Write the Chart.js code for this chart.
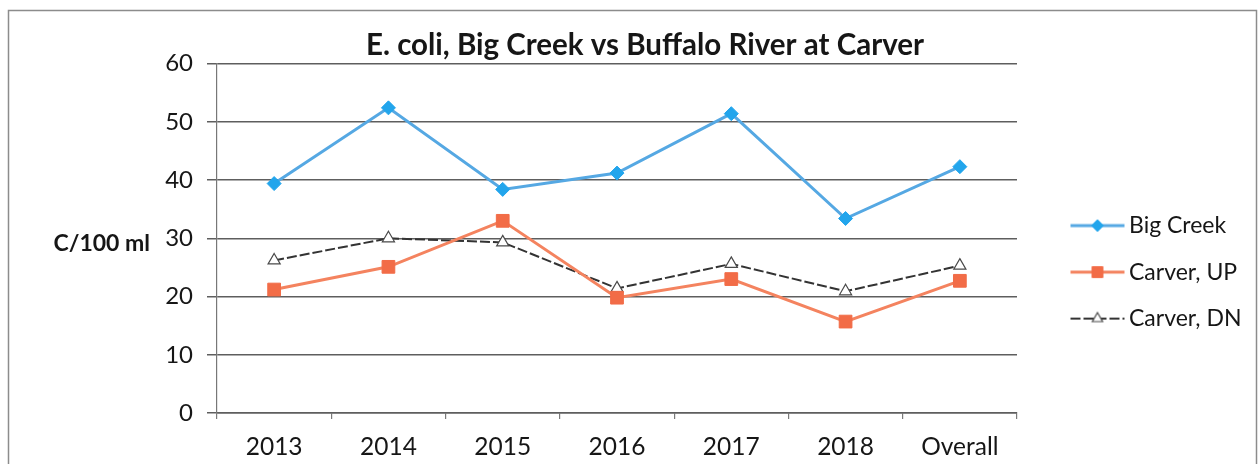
<!DOCTYPE html>
<html>
<head>
<meta charset="utf-8">
<title>E. coli, Big Creek vs Buffalo River at Carver</title>
<script src="https://cdn.jsdelivr.net/npm/chart.js@4/dist/chart.umd.min.js"></script>
<style>
  html, body { margin: 0; padding: 0; background: #ffffff; }
  #wrap { position: relative; width: 1259px; height: 464px; }
</style>
</head>
<body>
<div id="wrap"><canvas id="chart" width="1259" height="464"></canvas></div>
<script>
// ---- data ----
const categories = ['2013', '2014', '2015', '2016', '2017', '2018', 'Overall'];
const bigCreek  = [39.4, 52.4, 38.4, 41.2, 51.4, 33.4, 42.3];
const carverUp  = [21.2, 25.1, 33.0, 19.8, 23.0, 15.7, 22.7];
const carverDn  = [26.2, 30.0, 29.3, 21.4, 25.6, 20.9, 25.3];
const yTicks    = [0, 10, 20, 30, 40, 50, 60];
const seriesNames = ['Big Creek', 'Carver, UP', 'Carver, DN'];
const chartTitle = 'E. coli, Big Creek vs Buffalo River at Carver';
const yAxisLabel = 'C/100 ml';

const FONT = 'Lato, "Open Sans", "DejaVu Sans", sans-serif';
const TEXT = '#161616';

// small canvas with a line + marker, used as the legend symbol
function legendSymbol(ds) {
  const c = document.createElement('canvas');
  c.width = 56; c.height = 20;
  const ctx = c.getContext('2d');
  ctx.strokeStyle = ds.borderColor;
  ctx.lineWidth = ds.borderWidth;
  ctx.setLineDash(ds.borderDash || []);
  ctx.beginPath(); ctx.moveTo(1, 10); ctx.lineTo(55, 10); ctx.stroke();
  ctx.setLineDash([]);
  ctx.fillStyle = ds.pointBackgroundColor;
  ctx.strokeStyle = ds.pointBorderColor;
  ctx.lineWidth = ds.pointBorderWidth;
  Chart.helpers.drawPoint(ctx, {
    pointStyle: ds.pointStyle, radius: ds.pointRadius * 0.85,
    borderWidth: ds.pointBorderWidth, rotation: 0
  }, 28, 10);
  return c;
}

// frame around the figure, the horizontal y-axis caption and box placement
const figureDecor = {
  id: 'figureDecor',
  afterLayout(chart) {
    const area = chart.chartArea;
    const t = chart.titleBlock;
    t.left = 31; t.right = chart.width; t.width = t.right - t.left;
    const lg = chart.legend;
    lg.left = area.right + 37;
    lg.right = chart.width;
    lg.width = lg.right - lg.left;
    lg.top = area.top + 127;
    lg.bottom = chart.height;
    lg.height = lg.bottom - lg.top;
  },
  beforeDraw(chart) {
    const ctx = chart.ctx;
    ctx.save();
    ctx.strokeStyle = '#8c8c8c';
    ctx.lineWidth = 1.5;
    ctx.strokeRect(8.5, 10.5, chart.width - 11, chart.height + 20);
    ctx.restore();
  },
  afterDraw(chart) {
    const ctx = chart.ctx;
    const area = chart.chartArea;
    ctx.save();
    ctx.font = 'bold 23px ' + FONT;
    ctx.fillStyle = TEXT;
    ctx.textAlign = 'right';
    ctx.textBaseline = 'middle';
    ctx.fillText(yAxisLabel, area.left - 67, (area.top + area.bottom) / 2 + 5);
    ctx.restore();
  }
};

const datasets = [
  {
    label: seriesNames[0], data: bigCreek,
    borderColor: '#55a8e3', borderWidth: 3,
    pointStyle: 'rectRot', pointRadius: 7,
    pointBackgroundColor: '#22a5ec', pointBorderColor: '#22a5ec', pointBorderWidth: 1
  },
  {
    label: seriesNames[1], data: carverUp,
    borderColor: '#f4835f', borderWidth: 3,
    pointStyle: 'rect', pointRadius: 9,
    pointBackgroundColor: '#f26c47', pointBorderColor: '#f26c47', pointBorderWidth: 1
  },
  {
    label: seriesNames[2], data: carverDn,
    borderColor: '#333333', borderWidth: 2, borderDash: [10, 3],
    pointStyle: 'triangle', pointRadius: 7,
    pointBackgroundColor: '#ffffff', pointBorderColor: '#4a4a4a', pointBorderWidth: 1.2
  }
];
datasets.forEach(d => { d.fill = false; d.tension = 0; d.pointHoverRadius = d.pointRadius; });

new Chart(document.getElementById('chart'), {
  type: 'line',
  data: { labels: categories, datasets },
  plugins: [figureDecor],
  options: {
    responsive: false,
    animation: false,
    events: [],
    layout: { padding: { left: 0, right: 242, top: 0, bottom: 0 } },
    plugins: {
      title: {
        display: true,
        text: chartTitle,
        color: TEXT,
        font: { family: FONT, size: 29.5, weight: 'bold', lineHeight: 1.2 },
        padding: { top: 28.2, bottom: 0 }
      },
      legend: {
        display: true,
        position: 'chartArea',
        align: 'start',
        labels: {
          usePointStyle: true,
          pointStyleWidth: 40,
          padding: 23.5,
          color: TEXT,
          font: { family: FONT, size: 23 },
          generateLabels(chart) {
            return chart.data.datasets.map((ds, i) => ({
              text: ds.label,
              datasetIndex: i,
              pointStyle: legendSymbol(ds),
              fillStyle: ds.borderColor,
              strokeStyle: ds.borderColor,
              lineWidth: 0,
              fontColor: TEXT,
              hidden: false
            }));
          }
        }
      },
      tooltip: { enabled: false }
    },
    scales: {
      x: {
        type: 'category',
        offset: true,
        afterFit(scale) { scale.height = 51; },
        grid: {
          display: true, offset: true, drawOnChartArea: false, drawTicks: true,
          tickLength: 6, color: '#7a7a7a', lineWidth: 1.2
        },
        border: { display: true, color: '#5e5e5e', width: 1.5 },
        ticks: {
          color: TEXT, padding: 13, maxRotation: 0, autoSkip: false,
          font: { family: FONT, size: 24.5 }
        }
      },
      y: {
        min: yTicks[0],
        max: yTicks[yTicks.length - 1],
        afterFit(scale) { scale.width = 217; },
        afterBuildTicks(scale) { scale.ticks = yTicks.map(v => ({ value: v })); },
        grid: {
          color: '#5e5e5e', lineWidth: 1.5, drawTicks: true, tickLength: 10
        },
        border: { display: true, color: '#777777', width: 1.2 },
        ticks: {
          color: TEXT, padding: 14,
          font: { family: FONT, size: 24 }
        }
      }
    }
  }
});
</script>
</body>
</html>
